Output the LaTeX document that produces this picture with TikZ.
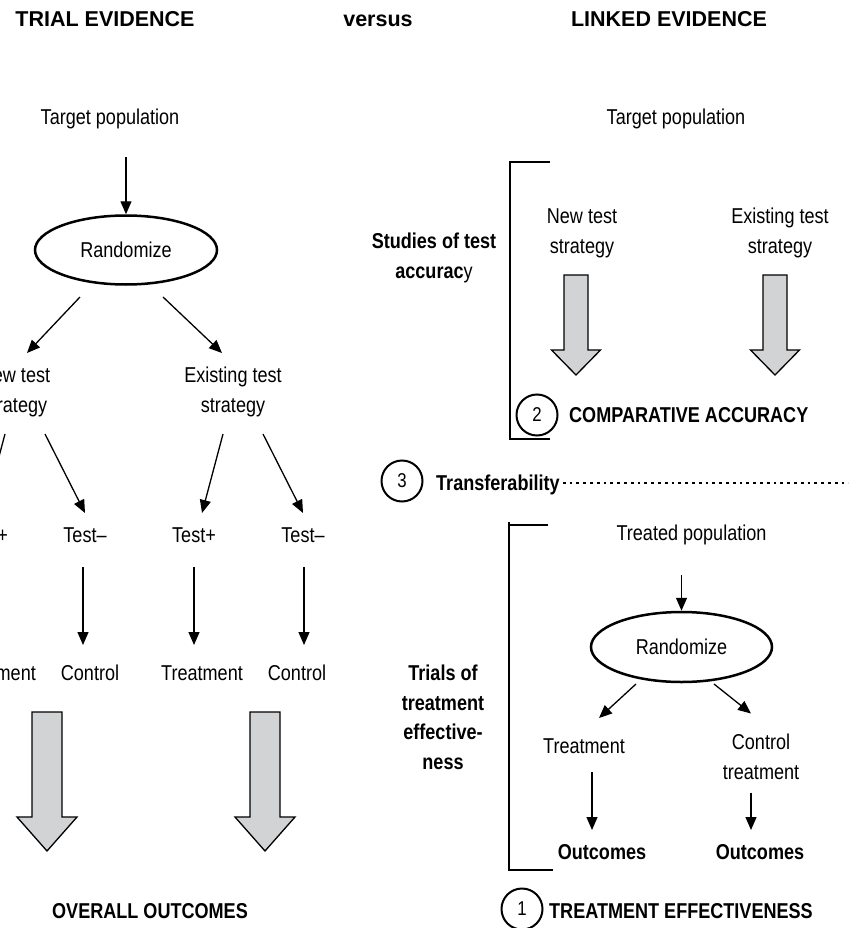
\documentclass[tikz,border=0pt]{standalone}
\usepackage{fontspec}
\setmainfont{Liberation Sans}[FakeStretch=0.84]
\newfontfamily\titlefont{Liberation Sans}
\usetikzlibrary{arrows.meta,shapes.geometric,calc}
\definecolor{arrowgray}{RGB}{209,211,212}

\begin{document}
\begin{tikzpicture}[x=1pt,y=-1pt,
    plaintxt/.style={inner sep=0pt, align=center, font=\fontsize{21.5}{30}\selectfont},
    boldtxt/.style={inner sep=0pt, align=center, font=\bfseries\fontsize{21.5}{29.5}\selectfont},
    titletxt/.style={inner sep=0pt, anchor=base, font=\titlefont\bfseries\fontsize{21.5}{26}\selectfont},
    randbox/.style={ellipse, draw, line width=2.5pt, inner sep=0pt, font=\fontsize{21.5}{24}\selectfont},
    numcirc/.style={circle, draw, line width=2pt, minimum size=41pt, inner sep=0pt, font=\fontsize{20}{22}\selectfont},
    arr/.style={-{Triangle[length=13pt,width=11pt]}, line width=1.3pt},
    fatarrow/.style={draw, line width=1.3pt, fill=arrowgray, line join=miter},
    bracket/.style={line width=1.3pt},
    dotline/.style={line width=2.8pt, dash pattern=on 2.8pt off 4pt}]

\useasboundingbox (0,0) rectangle (848,928);
\clip (0,0) rectangle (848,928);

% headings
\node[titletxt] (trial) at (105,27) {TRIAL EVIDENCE};
\node[titletxt] (versus) at (378,27) {versus};
\node[titletxt] (linked) at (669,27) {LINKED EVIDENCE};

% trial evidence
\node[plaintxt] (tp1) at (110,119) {Target population};
\node[randbox, minimum width=182pt, minimum height=69pt] (rand1) at (126,250) {Randomize};
\node[plaintxt] (new1) at (15,392) {New test\\strategy};
\node[plaintxt] (ex1) at (233,392) {Existing test\\strategy};
\node[plaintxt] (tplus1) at (-14,535) {Test+};
\node[plaintxt] (tminus1) at (85,535) {Test--};
\node[plaintxt] (tplus2) at (194,535) {Test+};
\node[plaintxt] (tminus2) at (303,535) {Test--};
\node[plaintxt] (treat1) at (-5,673) {Treatment};
\node[plaintxt] (ctrl1) at (90,673) {Control};
\node[plaintxt] (treat2) at (202,673) {Treatment};
\node[plaintxt] (ctrl2) at (297,673) {Control};
\node[boldtxt] (overall) at (150,911) {OVERALL OUTCOMES};

\draw[arr, shorten <=28pt] (tp1.south -| rand1.north) -- (rand1.north);
\draw[arr] ($(rand1)+(-46,47)$) -- ($(new1)+(12,-39)$);
\draw[arr] ($(rand1)+(37,47)$) -- ($(ex1)+(-11,-39)$);
\draw[arr] ($(new1)+(-10,42)$) -- ($(tplus1)+(-2,-22)$);
\draw[arr] ($(new1)+(30,42)$) -- ($(tminus1)+(0,-22)$);
\draw[arr] ($(ex1)+(-10,42)$) -- ($(tplus2)+(8,-22)$);
\draw[arr] ($(ex1)+(30,42)$) -- ($(tminus2)+(0,-22)$);
\draw[arr] ($(tplus1)+(0,32)$) -- ($(treat1)+(-9,-28)$);
\draw[arr] ($(tminus1)+(-2,32)$) -- ($(ctrl1)+(-7,-28)$);
\draw[arr] ($(tplus2)+(0,32)$) -- ($(treat2)+(-8,-28)$);
\draw[arr] ($(tminus2)+(1,32)$) -- ($(ctrl2)+(7,-28)$);

\foreach \x in {47,265}
  \draw[fatarrow] (\x-15,712) -- (\x+15,712) -- (\x+15,817) -- (\x+30,817)
    -- (\x,851) -- (\x-30,817) -- (\x-15,817) -- cycle;

% linked evidence: test accuracy
\node[plaintxt] (tp2) at (676,119) {Target population};
\node[plaintxt] (new2) at (582,233) {New test\\strategy};
\node[plaintxt] (ex2) at (780,233) {Existing test\\strategy};
\node[boldtxt] (studies) at (434,258) {Studies of test\\accurac{\mdseries y}};

\foreach \x in {576,775}
  \draw[fatarrow] (\x-12,275) -- (\x+12,275) -- (\x+12,350) -- (\x+24.5,350)
    -- (\x,375) -- (\x-24.5,350) -- (\x-12,350) -- cycle;

\draw[bracket] (550,162) -- (510,162) -- (510,439) -- (550,439);
\node[numcirc] (num2) at (537,415) {2};
\node[boldtxt, anchor=west] (compacc) at (569,415) {COMPARATIVE ACCURACY};

% transferability
\node[numcirc] (num3) at (402,481) {3};
\node[boldtxt, anchor=west] (transf) at (436,485) {Transferability};
\coordinate (dotend) at (860,483);
\draw[dotline] ($(transf.east)+(3,-2)$) -- (dotend);

% linked evidence: treatment effectiveness
\node[plaintxt] (tp3) at (691.5,535) {Treated population};
\node[randbox, minimum width=181pt, minimum height=70pt] (rand2) at (681.5,647) {Randomize};
\node[plaintxt] (treat3) at (584,746) {Treatment};
\node[plaintxt] (ctrl3) at (761,756.5) {Control\\treatment};
\node[boldtxt] (out1) at (602,852) {Outcomes};
\node[boldtxt] (out2) at (760,852) {Outcomes};
\node[boldtxt] (trials) at (443,717.5) {Trials of\\treatment\\effective-\\ness};

\draw[arr] ($(tp3)+(-10,40)$) -- (rand2.north);
\draw[arr] ($(rand2)+(-45.5,37)$) -- ($(treat3)+(15,-28)$);
\draw[arr] ($(rand2)+(32.5,37)$) -- ($(ctrl3)+(-10,-43)$);
\draw[arr] ($(treat3)+(8,26)$) -- ($(out1)+(-10,-22)$);
\draw[arr] ($(ctrl3)+(-10,36)$) -- ($(out2)+(-9,-22)$);

\draw[bracket] (548,525) -- (509,525);
\draw[bracket] (509,522) -- (509,870) -- (553,870);
\node[numcirc] (num1) at (522,909) {1};
\node[boldtxt, anchor=west] (treff) at (549,911) {TREATMENT EFFECTIVENESS};

\end{tikzpicture}
\end{document}
